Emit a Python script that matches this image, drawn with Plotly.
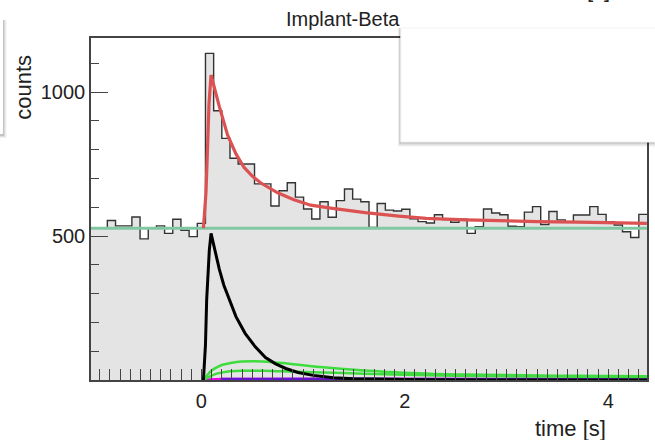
import plotly.graph_objects as go

# ---------------- data ----------------
bin_start = -1.0853
bin_width = 0.08039
counts = [527, 527, 554, 535, 535, 566, 490, 527, 535, 509,
          558, 520, 498, 544, 1134, 935, 839, 770, 750, 750,
          681, 681, 604, 657, 685, 635, 594, 559, 619, 565,
          623, 663, 628, 619, 530, 613, 590, 587, 593, 560,
          550, 545, 574, 557, 548, 558, 509, 532, 594, 580,
          574, 534, 532, 583, 602, 540, 585, 556, 550, 573,
          573, 602, 575, 550, 538, 515, 495, 575]

const_level = 527

red_x = [0.02, 0.045, 0.06, 0.075, 0.095, 0.145, 0.176, 0.258, 0.34, 0.42, 0.50,
         0.585, 0.75, 0.91, 1.075, 1.29, 1.61, 1.94, 2.21, 2.6, 3.0, 3.3, 3.7, 4.0, 4.38]
red_y = [527, 650, 800, 960, 1059, 990, 950, 850, 785, 738, 708,
         684, 650, 626, 607, 596, 581, 569, 561, 556, 552, 550, 548, 546, 544]

black_x = [0.02, 0.04, 0.052, 0.065, 0.078, 0.095, 0.13, 0.176, 0.22, 0.275, 0.34,
           0.43, 0.53, 0.63, 0.73, 0.83, 0.95, 1.1, 1.3, 1.5, 1.8, 2.2, 2.8, 3.5, 4.38]
black_y = [0, 120, 278, 380, 451, 509, 450, 385, 330, 278, 220,
           162, 115, 78, 56, 40, 26, 16, 8, 4, 1.5, 0.5, 0.1, 0, 0]

green1_x = [0.02, 0.06, 0.1, 0.15, 0.2, 0.3, 0.4, 0.5, 0.6, 0.7, 0.8, 0.9, 1.0,
            1.2, 1.4, 1.6, 1.8, 2.0, 2.3, 2.6, 3.0, 3.5, 4.0, 4.38]
green1_y = [0, 18, 33, 44, 52, 60, 64, 65, 64, 62, 59, 55, 51,
            44, 38, 33, 29, 25, 21, 19, 17, 15, 14, 13]

green2_x = [0.02, 0.08, 0.15, 0.25, 0.4, 0.6, 0.8, 1.0, 1.3, 1.6, 2.0, 2.5, 3.0, 3.5, 4.0, 4.38]
green2_y = [0, 12, 22, 29, 32, 32, 30, 28, 25, 22, 18, 15, 13, 12, 11, 10]

magenta_x = [0.02, 0.1, 0.2, 0.5, 1.0, 2.0, 3.0, 4.38]
magenta_y = [0, 2, 3, 3, 3, 2.5, 2, 2]

violet_x = [0.2, 0.5, 1.0, 1.5, 2.0, 2.4, 3.0, 4.0, 4.38]
violet_y = [3, 3.5, 4, 4, 3.5, 3, 2.5, 2, 2]

x_tick_vals = [0, 2, 4]
y_tick_vals = [500, 1000]

# ---------------- figure ----------------
edges = [bin_start + i * bin_width for i in range(len(counts) + 1)]
x_lo, x_hi = edges[0], edges[-1]

fig = go.Figure()
fig.add_trace(go.Scatter(x=edges, y=counts + [counts[-1]], mode="lines",
                         line=dict(shape="hv", color="#333333", width=1.4),
                         fill="tozeroy", fillcolor="#e4e4e4", hoverinfo="skip"))
fig.add_trace(go.Scatter(x=[x_lo, x_hi], y=[const_level, const_level], mode="lines",
                         line=dict(color="#80c8a2", width=3)))
fig.add_trace(go.Scatter(x=magenta_x, y=magenta_y, mode="lines",
                         line=dict(color="#ee00ee", width=3)))
fig.add_trace(go.Scatter(x=violet_x, y=violet_y, mode="lines",
                         line=dict(color="#6a0fd8", width=2.6)))
fig.add_trace(go.Scatter(x=green2_x, y=green2_y, mode="lines", line_shape="spline",
                         line=dict(color="#3fdc3f", width=2.5)))
fig.add_trace(go.Scatter(x=green1_x, y=green1_y, mode="lines", line_shape="spline",
                         line=dict(color="#3fdc3f", width=2.5)))
fig.add_trace(go.Scatter(x=black_x, y=black_y, mode="lines",
                         line=dict(color="#000000", width=3)))
fig.add_trace(go.Scatter(x=red_x, y=red_y, mode="lines",
                         line=dict(color="#dc5252", width=3.2)))

font_family = "Liberation Sans, Arial, Helvetica, sans-serif"
axis_col = "#444444"

fig.update_layout(
    width=655, height=440,
    margin=dict(l=91, r=6, t=38, b=60),
    paper_bgcolor="white", plot_bgcolor="white",
    showlegend=False,
    font=dict(family=font_family, size=20, color="#222222"),
    xaxis=dict(range=[x_lo, x_hi], showgrid=False, zeroline=False,
               showline=True, linecolor=axis_col, linewidth=1.5, mirror=True,
               ticks="inside", ticklen=11, tickwidth=1.3, tickcolor=axis_col,
               tickvals=x_tick_vals, ticklabelstandoff=2,
               minor=dict(dtick=0.1, ticks="inside", ticklen=11, tickwidth=1.3,
                          tickcolor=axis_col, showgrid=False)),
    yaxis=dict(range=[0, 1187.5], showgrid=False, zeroline=False,
               showline=True, linecolor=axis_col, linewidth=1.5, mirror=True,
               ticks="inside", ticklen=17, tickwidth=1.3, tickcolor=axis_col,
               tickvals=y_tick_vals, ticklabelstandoff=0,
               minor=dict(dtick=100, ticks="inside", ticklen=8.5, tickwidth=1.3,
                          tickcolor=axis_col, showgrid=False)),
)

# titles
fig.add_annotation(text="Implant-Beta", xref="paper", yref="paper",
                   x=0.453, y=1.0556, showarrow=False,
                   font=dict(size=20, color="#222222"), xanchor="center", yanchor="middle")
fig.add_annotation(text="counts", xref="paper", yref="paper",
                   x=-0.1207, y=0.857, showarrow=False, textangle=-90,
                   font=dict(size=22, color="#222222"), xanchor="center", yanchor="middle")
fig.add_annotation(text="time [s]", xref="paper", yref="paper",
                   x=0.862, y=-0.143, showarrow=False,
                   font=dict(size=22, color="#222222"), xanchor="center", yanchor="middle")
# cut-off text fragment at the very top right edge
fig.add_annotation(text="[s]", xref="paper", yref="paper",
                   x=0.912, y=1.0994, showarrow=False,
                   font=dict(size=22, color="#222222"), xanchor="center", yanchor="bottom")

# overlay boxes (white panels with soft shadow)
def px2p(px, py):
    return (px - 91.3) / 557.6, (380 - py) / 342.0

shapes = []
# right panel shadow
for i, op in enumerate([0.10, 0.08, 0.06, 0.04, 0.03]):
    x0, y0 = px2p(402 - 1 - i * 0.5, 28)
    x1, y1 = px2p(660, 142 + 1 + i)
    shapes.append(dict(type="rect", xref="paper", yref="paper", x0=x0, y0=y0, x1=x1, y1=y1,
                       line=dict(width=0), fillcolor=f"rgba(0,0,0,{op})", layer="above"))
x0, y0 = px2p(402, 28)
x1, y1 = px2p(660, 142)
shapes.append(dict(type="rect", xref="paper", yref="paper", x0=x0, y0=y0, x1=x1, y1=y1,
                   line=dict(width=1, color="#f2f2f2"), fillcolor="white", layer="above"))
# left panel shadow
for i, op in enumerate([0.10, 0.07, 0.05, 0.03]):
    x0, y0 = px2p(-10, 20)
    x1, y1 = px2p(3 + 1 + i, 136 + i * 0.7)
    shapes.append(dict(type="rect", xref="paper", yref="paper", x0=x0, y0=y0, x1=x1, y1=y1,
                       line=dict(width=0), fillcolor=f"rgba(0,0,0,{op})", layer="above"))
x0, y0 = px2p(-10, 18)
x1, y1 = px2p(3, 134)
shapes.append(dict(type="rect", xref="paper", yref="paper", x0=x0, y0=y0, x1=x1, y1=y1,
                   line=dict(width=0), fillcolor="white", layer="above"))
fig.update_layout(shapes=shapes)

fig.write_html("out.html", config={"displayModeBar": False},
               post_script="document.body.style.margin='0';document.body.style.overflow='hidden';")
